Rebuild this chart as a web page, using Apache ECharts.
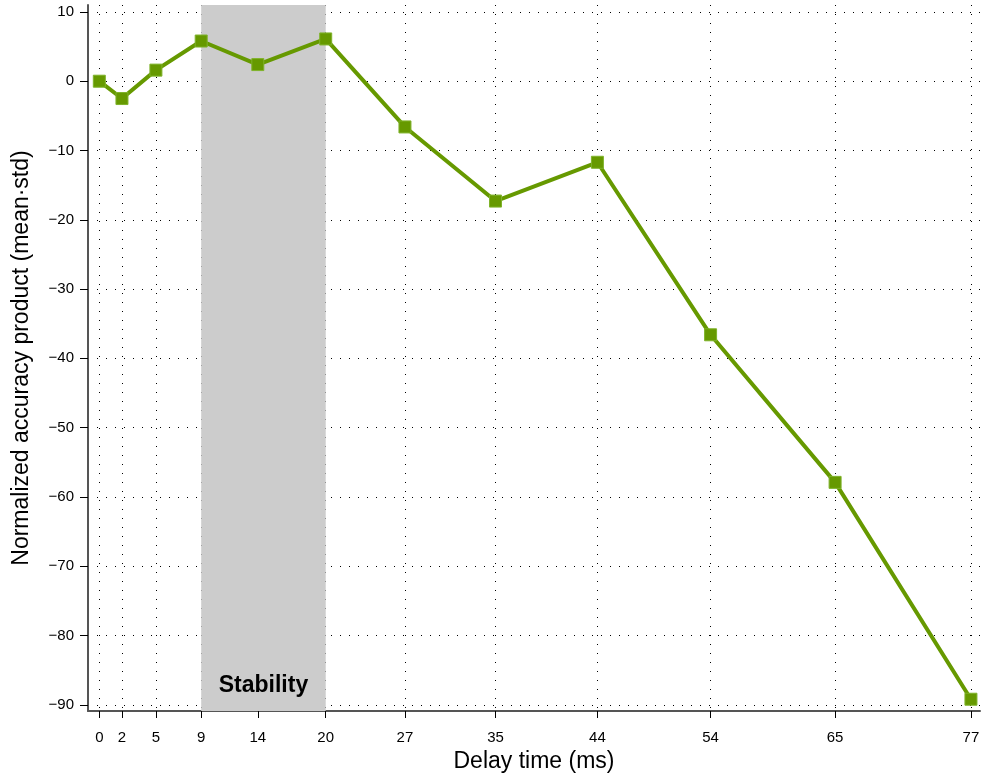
<!DOCTYPE html>
<html><head><meta charset="utf-8">
<script src="https://cdn.jsdelivr.net/npm/echarts@6/dist/echarts.min.js"></script>
<style>html,body{margin:0;padding:0;background:#fff}#c{width:984px;height:776px}</style>
</head><body><div id="c"></div>
<script>
const delays = [0, 2, 5, 9, 14, 20, 27, 35, 44, 54, 65, 77];
const values = [0, -2.5, 1.6, 5.8, 2.4, 6.1, -6.6, -17.3, -11.7, -36.6, -57.9, -89.2];
const yTicks = [10, 0, -10, -20, -30, -40, -50, -60, -70, -80, -90];
const band = [9, 20];
const bandLabel = 'Stability';

const chart = echarts.init(document.getElementById('c'));
const font = 'Liberation Sans, Arial, sans-serif';
const dotted = {type: [1, 8], color: '#000', width: 1};
chart.setOption({
  animation: false,
  grid: {left: 88, top: 5, right: 4, bottom: 65, containLabel: false, outerBoundsMode: 'none'},
  xAxis: {
    type: 'value', min: -1, max: 77.8,
    name: 'Delay time (ms)', nameLocation: 'middle', nameGap: 37,
    nameTextStyle: {fontFamily: font, fontSize: 23, color: '#000'},
    axisLine: {show: true, onZero: false, lineStyle: {color: '#555', width: 2}},
    axisTick: {show: true, length: 7, customValues: delays, lineStyle: {color: '#000'}},
    axisLabel: {customValues: delays, fontFamily: font, fontSize: 15, color: '#000', margin: 19},
    splitLine: {show: true, lineStyle: dotted}
  },
  yAxis: {
    type: 'value', min: -90.9, max: 11,
    name: 'Normalized accuracy product (mean\u00b7std)', nameLocation: 'middle', nameGap: 55,
    nameTextStyle: {fontFamily: font, fontSize: 23, color: '#000'},
    axisLine: {show: true, onZero: false, lineStyle: {color: '#555', width: 2}},
    axisTick: {show: true, length: 8, customValues: yTicks, lineStyle: {color: '#000'}},
    axisLabel: {customValues: yTicks, fontFamily: font, fontSize: 15, color: '#000', margin: 14,
      formatter: v => (v < 0 ? '\u2212' + Math.abs(v) : String(v))},
    splitLine: {show: true, lineStyle: dotted}
  },
  series: [
    {
      type: 'line', data: [], z: -1, silent: true,
      markArea: {
        silent: true,
        itemStyle: {color: '#cccccc'},
        label: {show: true, position: 'insideBottom', distance: 14, formatter: bandLabel,
          fontFamily: font, fontSize: 23, fontWeight: 'bold', color: '#000'},
        data: [[{xAxis: band[0]}, {xAxis: band[1]}]]
      }
    },
    {
      type: 'line', z: 3,
      data: delays.map((d, i) => [d, values[i]]),
      lineStyle: {color: '#669900', width: 4},
      itemStyle: {color: '#669900', borderColor: '#7fb32a', borderWidth: 1},
      symbol: 'rect', symbolSize: 12
    }
  ]
});
</script></body></html>
